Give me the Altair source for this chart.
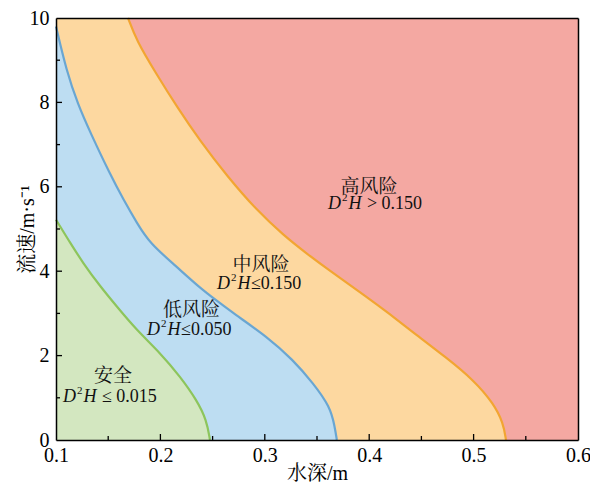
import altair as alt
import pandas as pd

# ---------------- data ----------------
# boundary curves: water depth (m) vs flow velocity (m/s)
green_depth = [0.100, 0.1134, 0.126, 0.142, 0.158, 0.177, 0.200, 0.219, 0.2347, 0.2443, 0.2475]
green_vel = [5.22, 4.68, 4.19, 3.65, 3.17, 2.61, 2.06, 1.50, 0.95, 0.47, 0.0]

blue_depth = [0.100, 0.110, 0.121, 0.1326, 0.1517, 0.1645, 0.178, 0.190, 0.214, 0.238, 0.254,
              0.270, 0.302, 0.327, 0.3465, 0.3625, 0.367, 0.369]
blue_vel = [9.80, 8.75, 7.95, 7.30, 6.30, 5.70, 5.12, 4.66, 4.14, 3.60, 3.30,
            3.00, 2.45, 1.90, 1.34, 0.79, 0.32, 0.0]

orange_depth = [0.169, 0.177, 0.196, 0.216, 0.238, 0.264, 0.292, 0.318, 0.340, 0.364, 0.396,
                0.420, 0.442, 0.474, 0.500, 0.519, 0.5285, 0.531]
orange_vel = [10.0, 9.47, 8.68, 7.89, 7.09, 6.25, 5.45, 4.85, 4.42, 3.98, 3.42,
              2.98, 2.55, 1.95, 1.42, 0.87, 0.40, 0.0]

x_label_values = [0.1, 0.2, 0.3, 0.4, 0.5, 0.6]
y_label_values = [0, 2, 4, 6, 8, 10]
x_major_ticks = [0.2, 0.3, 0.4, 0.5]
x_minor_ticks = [0.15, 0.25, 0.35, 0.45, 0.55]
y_major_ticks = [2, 4, 6, 8]
y_minor_ticks = [1, 3, 5, 7, 9]

zone_names = ["安全", "低风险", "中风险", "高风险"]
zone_name_depth = [0.1546, 0.2298, 0.2964, 0.3998]
zone_name_vel = [1.52, 3.08, 4.15, 6.00]
formula_depth = [0.1067, 0.1872, 0.2542, 0.3605]
formula_vel = [1.02, 2.61, 3.70, 5.60]
formula_tail = [" ≤ 0.015", "≤0.050", "≤0.150", " > 0.150"]

x_domain = [0.1, 0.6]
y_domain = [0, 10]

# ---------------- styling ----------------
FONT = "Liberation Serif, Noto Serif CJK SC, Noto Sans CJK SC"
RED_FILL = "#F4A8A2"
ORANGE_FILL = "#FDD8A0"
BLUE_FILL = "#BDDDF2"
GREEN_FILL = "#D3E7C0"
ORANGE_LINE = "#F2A532"
BLUE_LINE = "#6AA6D2"
GREEN_LINE = "#8DC55C"
INTERP = "basis"

W, H = 522, 422

xs = alt.Scale(domain=x_domain, nice=False, zero=False)
ys = alt.Scale(domain=y_domain, nice=False, zero=False)

X_AXIS = alt.Axis(values=x_label_values, format=".1f", ticks=False, grid=False,
                  domainColor="black", domainWidth=1.5, labelPadding=5,
                  labelFlush=False, labelOverlap=False,
                  title="水深/m", titleY=33, titleBaseline="middle", zindex=1)
Y_AXIS = alt.Axis(values=y_label_values, format="d", ticks=False, grid=False,
                  domainColor="black", domainWidth=1.5, labelPadding=7,
                  labelFlush=False, labelOverlap=False,
                  title="流速/m·s⁻¹", titleX=-29, titleY=H / 2, titleAngle=-90,
                  titleBaseline="middle", titleAlign="center", zindex=1)


def X(field):
    return alt.X(field, type="quantitative", scale=xs, axis=X_AXIS)


def Y(field):
    return alt.Y(field, type="quantitative", scale=ys, axis=Y_AXIS)


def curve_df(depth, vel):
    return pd.DataFrame({"depth": depth, "vel": vel, "idx": list(range(len(depth)))})


curves = [
    (curve_df(orange_depth, orange_vel), ORANGE_FILL, ORANGE_LINE),
    (curve_df(blue_depth, blue_vel), BLUE_FILL, BLUE_LINE),
    (curve_df(green_depth, green_vel), GREEN_FILL, GREEN_LINE),
]

layers = []
for df, fill, _ in curves:
    layers.append(
        alt.Chart(df).mark_area(orient="horizontal", interpolate=INTERP,
                                color=fill, opacity=1)
        .encode(x=X("depth"), x2=alt.datum(x_domain[0]), y=Y("vel"))
    )
for df, _, line in curves:
    layers.append(
        alt.Chart(df).mark_line(interpolate=INTERP, color=line, strokeWidth=2.2)
        .encode(x=X("depth"), y=Y("vel"), order=alt.Order("idx:Q"))
    )

# inward ticks
for vals, ln in [(x_major_ticks, 6), (x_minor_ticks, 4)]:
    layers.append(
        alt.Chart(pd.DataFrame({"t": vals})).mark_rule(color="black", strokeWidth=1.3)
        .encode(x=X("t"), y=alt.value(H), y2=alt.value(H - ln))
    )
for vals, ln in [(y_major_ticks, 6), (y_minor_ticks, 4)]:
    layers.append(
        alt.Chart(pd.DataFrame({"t": vals})).mark_rule(color="black", strokeWidth=1.3)
        .encode(y=Y("t"), x=alt.value(0), x2=alt.value(ln))
    )

# zone labels
names_df = pd.DataFrame({"depth": zone_name_depth, "vel": zone_name_vel, "name": zone_names})
layers.append(
    alt.Chart(names_df).mark_text(font=FONT, fontSize=19, align="center", baseline="middle",
                                  color="#111111")
    .encode(x=X("depth"), y=Y("vel"), text="name:N")
)

form_df = pd.DataFrame({"depth": formula_depth, "vel": formula_vel, "tail": formula_tail,
                        "D": ["D"] * 4, "sup": ["2"] * 4, "H": ["H"] * 4})
spaced = form_df["tail"].str.startswith(" ")
spaced_df = form_df[spaced].assign(tail=lambda d: d["tail"].str.strip())
tight_df = form_df[~spaced]


def txt(df, field, dx, dy, size, style):
    return (
        alt.Chart(df).mark_text(font="Liberation Serif", fontSize=size, fontStyle=style,
                                align="left", baseline="middle", dx=dx, dy=dy,
                                color="#111111")
        .encode(x=X("depth"), y=Y("vel"), text=alt.Text(field, type="nominal"))
    )


layers += [
    txt(form_df, "D", 0, 0, 18, "italic"),
    txt(form_df, "sup", 14, -6, 11, "normal"),
    txt(form_df, "H", 20.5, 0, 18, "italic"),
    txt(tight_df, "tail", 34, 0, 18, "normal"),
    txt(spaced_df, "tail", 39, 0, 18, "normal"),
]

main = alt.layer(*layers)

# top / right frame lines
frame_df = pd.DataFrame({"depth": x_domain, "vel": y_domain})
frame = alt.Chart(frame_df).mark_point(opacity=0).encode(
    x=alt.X("depth:Q", scale=xs,
            axis=alt.Axis(orient="top", labels=False, ticks=False, grid=False, title=None,
                          domainColor="black", domainWidth=1.5, zindex=1)),
    y=alt.Y("vel:Q", scale=ys,
            axis=alt.Axis(orient="right", labels=False, ticks=False, grid=False, title=None,
                          domainColor="black", domainWidth=1.5, zindex=1)),
)

chart = (
    alt.layer(main, frame)
    .resolve_axis(x="independent", y="independent")
    .properties(width=W, height=H, autosize=alt.AutoSizeParams(type="none"),
                padding={"left": 56, "top": 18, "right": 12, "bottom": 42},
                background="white")
    .configure_view(fill=RED_FILL, stroke=None)
    .configure_axis(labelFont=FONT, labelFontSize=20, labelColor="black",
                    titleFont=FONT, titleFontSize=20, titleFontWeight="normal",
                    titleColor="black")
)

chart.save("out.html", embed_options={"renderer": "svg", "actions": False})
